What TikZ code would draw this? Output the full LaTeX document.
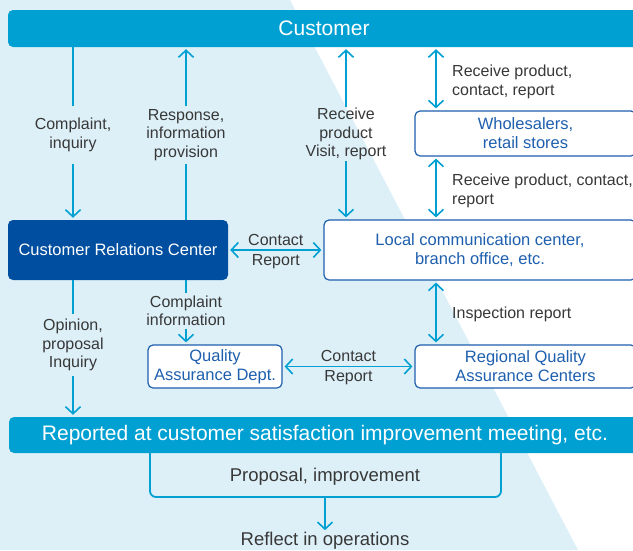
\documentclass[tikz,border=0pt]{standalone}
\usepackage{fontspec}
\setmainfont{Liberation Sans}
\usetikzlibrary{arrows.meta}
\definecolor{cyanb}{HTML}{00A0D2}
\definecolor{navyb}{HTML}{004E9F}
\definecolor{bgblue}{HTML}{DDF0F8}
\definecolor{boxtext}{HTML}{1E5FAE}
\definecolor{labtext}{HTML}{383838}
\begin{document}
\begin{tikzpicture}[x=1pt,y=-1pt,
  conn/.style={draw=cyanb, line width=1.8pt},
  tip/.style={-{Straight Barb[length=7pt,width=15pt,line width=1.6pt]}, shorten >=2pt},
  tiptwo/.style={{Straight Barb[length=7pt,width=15pt,line width=1.6pt]}-{Straight Barb[length=7pt,width=15pt,line width=1.6pt]}, shorten >=2pt, shorten <=2pt},
  bar/.style={fill=cyanb, rounded corners=5pt, text=white, inner sep=0pt, font=\fontsize{21}{24}\selectfont},
  navybox/.style={fill=navyb, rounded corners=5pt, text=white, inner sep=0pt, font=\fontsize{16.5}{19}\selectfont},
  wbox/.style={fill=white, draw=boxtext, line width=1.2pt, rounded corners=5pt, text=boxtext, inner sep=0pt, align=center, font=\fontsize{16.5}{19}\selectfont},
  lbl/.style={inner sep=0pt, align=center, text=labtext, font=\fontsize{16}{18.5}\selectfont},
  lbltwo/.style={inner sep=0pt, align=center, text=labtext, font=\fontsize{18.5}{21}\selectfont},
  elbl/.style={inner sep=3.5pt, text=labtext, font=\fontsize{16}{18.5}\selectfont}
]
\clip (0,0) rectangle (633,550);
\useasboundingbox (0,0) rectangle (633,550);
\fill[white] (0,0) rectangle (633,550);
\fill[bgblue] (0,0) -- (290,0) -- (578,550) -- (0,550) -- cycle;

% bars
\node[bar, minimum width=632, minimum height=37] (cust) at (324,28.5) {Customer};
\node[bar, minimum width=632, minimum height=36] (meet) at (325,435) {Reported at customer satisfaction improvement meeting, etc.};

% boxes
\node[navybox, minimum width=220, minimum height=60] (crc) at (118,250) {Customer Relations Center};
\node[wbox, minimum width=221, minimum height=45] (whole) at (525.5,133.5) {Wholesalers,\\retail stores};
\node[wbox, minimum width=312, minimum height=60] (loc) at (480,250) {Local communication center,\\branch office, etc.};
\node[wbox, minimum width=134, minimum height=43] (qad) at (215,366.5) {Quality\\Assurance Dept.};
\node[wbox, minimum width=221, minimum height=43] (rqa) at (525.5,366.5) {Regional Quality\\Assurance Centers};

% in-line labels
\node[lbl, minimum height=57] (l1) at (73,135) {Complaint,\\inquiry};
\node[lbl, minimum height=57] (l2) at (186,135) {Response,\\information\\provision};
\node[lbl, minimum height=54] (l3) at (346,134) {Receive\\product\\Visit, report};
\node[lbl, minimum height=36] (l4) at (186,311) {Complaint\\information};
\node[lbl, minimum height=62] (l5) at (73,345) {Opinion,\\proposal\\Inquiry};

% side labels
\node[lbl, anchor=west, align=left] (s1) at (452,82) {Receive product,\\contact, report};
\node[lbl, anchor=west, align=left] (s2) at (452,191) {Receive product, contact,\\report};
\node[lbl, anchor=west] (s3) at (452,314) {Inspection report};

% connectors
\coordinate (c4) at (436,0);
\draw[conn] (cust.south -| l1) -- (l1.north);
\draw[conn, tip] (l1.south) -- (crc.north -| l1);
\draw[conn, tip] (l2.north) -- (cust.south -| l2);
\draw[conn] (crc.north -| l2) -- (l2.south);
\draw[conn, tip] (l3.north) -- (cust.south -| l3);
\draw[conn, tip] (l3.south) -- (loc.north -| l3);
\draw[conn, tiptwo] (cust.south -| c4) -- (whole.north -| c4);
\draw[conn, tiptwo] (whole.south -| c4) -- (loc.north -| c4);
\draw[conn, tiptwo] (loc.south -| c4) -- (rqa.north -| c4);
\draw[conn, tiptwo] (crc.east) -- node[elbl, above] (k1) {Contact} node[elbl, below] (k2) {Report} (loc.west);
\draw[conn] (crc.south -| l4) -- (l4.north);
\draw[conn, tip] (l4.south) -- (qad.north -| l4);
\draw[conn] (crc.south -| l5) -- (l5.north);
\draw[conn, tip] (l5.south) -- (meet.north -| l5);
\draw[conn, tiptwo] (qad.east) -- node[elbl, above] (k3) {Contact} node[elbl, below] (k4) {Report} (rqa.west);

% bracket
\coordinate (bl) at (150,497);
\coordinate (br) at (501,497);
\coordinate (bm) at (325,497);
\draw[conn, rounded corners=6pt] (meet.south -| bl) -- (bl) -- (br) -- (meet.south -| br);
\node[lbltwo] (prop) at (325,477) {Proposal, improvement};
\node[lbltwo] (refl) at (325,541) {Reflect in operations};
\draw[conn, tip] (bm) -- (refl.north);
\end{tikzpicture}
\end{document}
